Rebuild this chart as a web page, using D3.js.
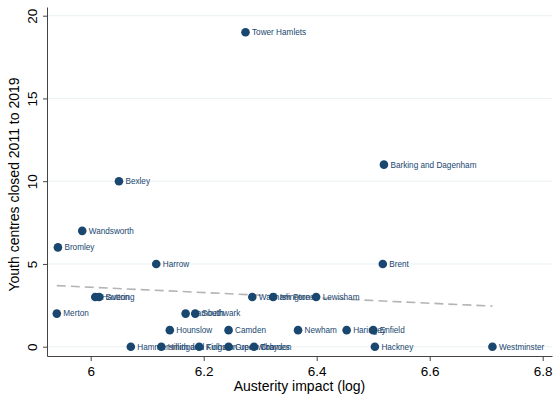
<!DOCTYPE html>
<html>
<head>
<meta charset="utf-8">
<script src="https://cdn.jsdelivr.net/npm/d3@7"></script>
<style>
  body { margin: 0; background: #fff; }
  svg { display: block; font-family: "Liberation Sans", Arial, Helvetica, sans-serif; }
</style>
</head>
<body>
<div id="chart"></div>
<script>
const WIDTH = 554;
const HEIGHT = 395;

// plot region edges (px)
const LEFT = 47;
const RIGHT = 552;
const TOP = 7;
const BOTTOM = 356;

const NAVY = "#1a476f";

// boroughs, austerity impact (log) and youth centres closed
const boroughs = [
  "Tower Hamlets", "Barking and Dagenham", "Bexley", "Wandsworth", "Bromley",
  "Harrow", "Brent", "Havering", "Sutton", "Merton",
  "Waltham Forest", "Islington", "Lewisham", "Lambeth", "Southwark",
  "Hounslow", "Camden", "Newham", "Haringey", "Enfield",
  "Hammersmith and Fulham", "Hillingdon", "Kingston upon Thames", "Greenwich", "Croydon",
  "Hackney", "Westminster"
];
const austerity = [
  6.274, 6.519, 6.050, 5.985, 5.942,
  6.116, 6.517, 6.008, 6.015, 5.940,
  6.286, 6.323, 6.399, 6.168, 6.185,
  6.140, 6.244, 6.367, 6.453, 6.500,
  6.071, 6.125, 6.192, 6.244, 6.289,
  6.503, 6.711
];
const closed = [
  19, 11, 10, 7, 6,
  5, 5, 3, 3, 2,
  3, 3, 3, 2, 2,
  1, 1, 1, 1, 1,
  0, 0, 0, 0, 0,
  0, 0
];

// fitted line end points [x, y]
const fitLine = [[5.940, 3.69], [6.711, 2.45]];

const xTicks = [6, 6.2, 6.4, 6.6, 6.8];
const yTicks = [0, 5, 10, 15, 20];

const points = boroughs.map((name, i) => ({ name, x: austerity[i], y: closed[i] }));

const svg = d3.select("#chart")
  .append("svg")
  .attr("width", WIDTH)
  .attr("height", HEIGHT);

// 6 -> 90.7px, 6.8 -> 542.7px ; 0 -> 346.7px, 20 -> 15.7px
const xPerUnit = (542.7 - 90.7) / 0.8;
const yPerUnit = (346.7 - 15.7) / 20;
const x = d3.scaleLinear()
  .domain([6 + (LEFT - 90.7) / xPerUnit, 6 + (RIGHT - 90.7) / xPerUnit])
  .range([LEFT, RIGHT]);
const y = d3.scaleLinear()
  .domain([(346.7 - BOTTOM) / yPerUnit, (346.7 - TOP) / yPerUnit])
  .range([BOTTOM, TOP]);

// gridlines
svg.append("g")
  .selectAll("line")
  .data(yTicks)
  .enter()
  .append("line")
  .attr("x1", LEFT)
  .attr("x2", RIGHT)
  .attr("y1", d => y(d))
  .attr("y2", d => y(d))
  .style("stroke", "#eaf2f3")
  .style("stroke-width", 1);

// axes
const xAxis = svg.append("g")
  .attr("transform", `translate(0,${BOTTOM})`)
  .call(d3.axisBottom(x).tickValues(xTicks).tickSize(5).tickSizeOuter(0).tickFormat(d3.format("")));
xAxis.select(".domain").style("stroke", "#444");
xAxis.selectAll(".tick line").style("stroke", "#444");
xAxis.selectAll(".tick text")
  .attr("y", 10)
  .attr("dy", "0.71em")
  .style("font-size", "13.5px")
  .style("fill", "#000");

const yAxis = svg.append("g")
  .attr("transform", `translate(${LEFT},0)`)
  .call(d3.axisLeft(y).tickValues(yTicks).tickSize(4).tickSizeOuter(0));
yAxis.select(".domain").style("stroke", "#444");
yAxis.selectAll(".tick line").style("stroke", "#444");
yAxis.selectAll(".tick text")
  .attr("x", 0)
  .attr("dy", 0)
  .attr("transform", "translate(-15,0) rotate(-90)")
  .style("text-anchor", "middle")
  .style("dominant-baseline", "central")
  .style("font-size", "13.5px")
  .style("fill", "#000");

// fitted line
svg.append("line")
  .attr("x1", x(fitLine[0][0]))
  .attr("y1", y(fitLine[0][1]))
  .attr("x2", x(fitLine[1][0]))
  .attr("y2", y(fitLine[1][1]))
  .style("stroke", "#b4b4b4")
  .style("stroke-width", 1.6)
  .style("stroke-dasharray", "9,5");

// points + labels
const g = svg.append("g");
g.selectAll("circle")
  .data(points)
  .enter()
  .append("circle")
  .attr("cx", d => x(d.x))
  .attr("cy", d => y(d.y))
  .attr("r", 4.3)
  .style("fill", NAVY);
g.selectAll("text")
  .data(points)
  .enter()
  .append("text")
  .attr("x", d => x(d.x) + 6.5)
  .attr("y", d => y(d.y))
  .attr("dy", "0.35em")
  .style("font-size", "8.2px")
  .style("fill", NAVY)
  .text(d => d.name);

// titles
svg.append("text")
  .attr("x", (LEFT + RIGHT) / 2)
  .attr("y", 391)
  .style("text-anchor", "middle")
  .style("font-size", "14px")
  .text("Austerity impact (log)");
svg.append("text")
  .attr("transform", `translate(19,${(TOP + BOTTOM) / 2 + 3}) rotate(-90)`)
  .style("text-anchor", "middle")
  .style("font-size", "14px")
  .text("Youth centres closed 2011 to 2019");
</script>
</body>
</html>
